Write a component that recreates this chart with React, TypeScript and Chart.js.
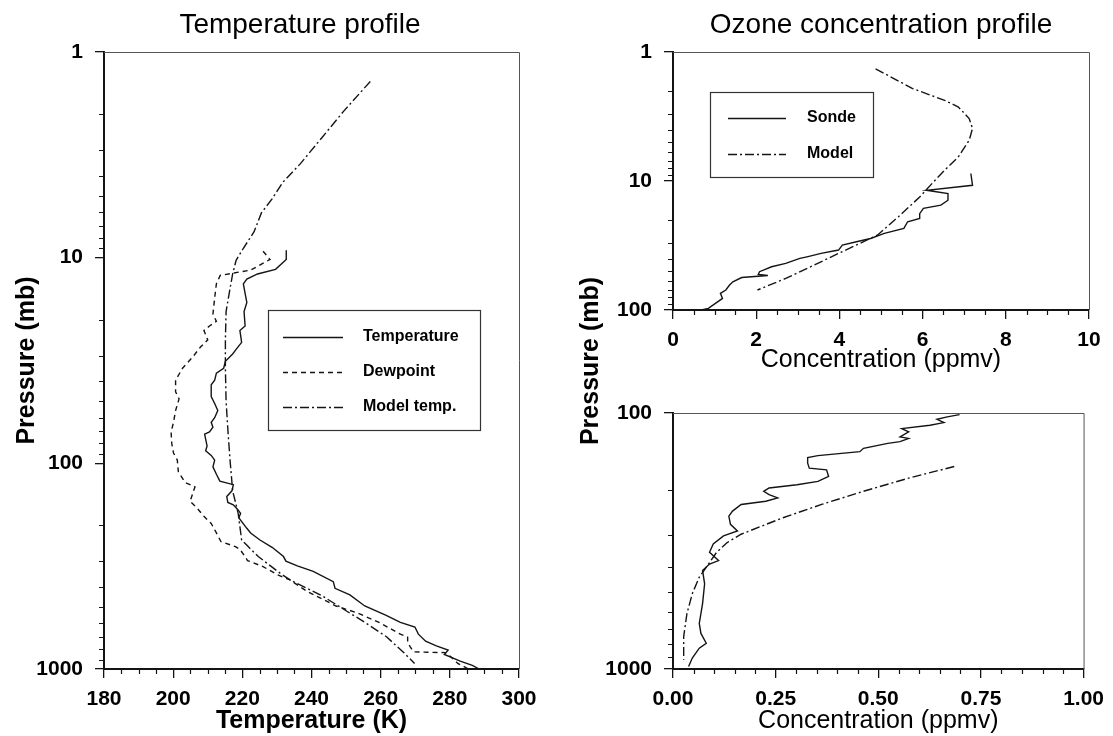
import React, { useEffect, useRef } from "react";
import { Chart, registerables } from "chart.js";

Chart.register(...registerables);

const FONT = "'Liberation Sans', Arial, sans-serif";
const INK = "#141414";

// ---------- Temperature profile (left) ----------
const temperatureP = [9.2, 10.2, 11.4, 12.0, 12.7, 13.4, 14.9, 16.5, 18.3, 21.5, 22.6, 25.8, 27.9, 29.4, 31.9, 34.5, 36.4, 39.4, 41.5, 47.3, 51.2, 55.4, 60.0, 63.2, 66.7, 70.3, 72.1, 82.3, 86.8, 91.5, 96.4, 104, 113, 122, 127, 136, 145, 155, 159, 168, 175, 184, 207, 218, 236, 256, 284, 299, 315, 335, 376, 405, 436, 494, 549, 593, 625, 677, 733, 772, 810, 850, 915, 960, 1000];
const temperatureK = [232.7, 232.7, 229.6, 224.4, 221.3, 220.3, 220.8, 221.3, 220.5, 220.8, 219.3, 219.8, 218.2, 217.2, 215.1, 214.6, 212.5, 212.0, 211.0, 211.0, 212.0, 212.9, 212.0, 211.0, 211.5, 210.5, 209.1, 209.8, 209.4, 211.0, 212.0, 211.5, 212.5, 213.5, 217.4, 217.0, 215.5, 215.8, 217.4, 218.7, 219.5, 219.0, 221.3, 222.4, 225.1, 228.6, 231.9, 232.6, 235.9, 240.5, 246.3, 246.8, 251.1, 255.4, 261.6, 265.7, 269.9, 270.9, 273.0, 276.1, 279.5, 278.4, 283.0, 286.5, 288.5];

const dewpointP = [9.3, 10.2, 11.5, 11.9, 12.2, 13.4, 15.7, 18.8, 20.4, 21.5, 22.6, 25.1, 27.2, 30.2, 34.5, 39.4, 44.9, 48.6, 55.4, 63.2, 70.3, 80.2, 89.1, 96.4, 110, 124, 130, 153, 165, 181, 196, 218, 240, 254, 262, 284, 297, 318, 351, 369, 389, 421, 456, 494, 534, 593, 677, 700, 745, 825, 830, 832, 870, 940, 1000];
const dewpointK = [226.0, 228.0, 222.4, 217.2, 213.6, 212.5, 212.0, 211.5, 212.5, 210.5, 208.9, 210.0, 207.9, 205.8, 202.7, 200.7, 200.7, 201.7, 200.7, 200.1, 199.4, 199.6, 200.1, 201.2, 201.5, 203.5, 206.3, 204.9, 206.9, 208.9, 211.0, 212.5, 213.8, 218.0, 219.3, 220.8, 221.5, 226.0, 230.6, 233.8, 235.8, 238.9, 243.0, 247.1, 253.3, 259.5, 265.7, 267.8, 267.8, 269.5, 275.0, 278.7, 280.2, 282.3, 285.4];

const modelTempP = [1.39, 1.95, 2.61, 3.49, 4.30, 5.18, 6.06, 7.48, 9.0, 10.3, 12.0, 14.9, 18.3, 25.1, 34.5, 49.9, 72.1, 98.9, 136, 175, 236, 254, 284, 342, 369, 444, 535, 593, 695, 836, 940];
const modelTempK = [257.0, 249.2, 243.0, 236.8, 231.7, 228.6, 225.5, 223.4, 220.3, 218.2, 217.2, 216.2, 215.3, 215.1, 215.1, 215.3, 215.9, 216.5, 217.2, 218.8, 219.8, 221.7, 224.6, 230.9, 233.8, 243.4, 251.1, 255.4, 261.6, 266.8, 269.8];

const temperatureTicks = [180, 200, 220, 240, 260, 280, 300];
const temperatureTickLabels = ["180", "200", "220", "240", "260", "280", "300"];
const pressureTicksFull = [1, 10, 100, 1000];
const pressureLabelsFull = ["1", "10", "100", "1000"];

// ---------- Ozone, stratosphere (top right) ----------
const sondeStratP = [8.75, 10.8, 11.8, 12.5, 14.1, 15.4, 16.3, 17.9, 19.5, 20.7, 23.3, 25.5, 27.9, 29.6, 31.4, 34.3, 36.4, 38.7, 39.8, 43.5, 46.2, 50.5, 53.0, 54.0, 56.0, 60.4, 64.0, 70.0, 74.3, 81.3, 88.8, 97.1, 100];
const sondeStratC = [7.16, 7.20, 6.10, 6.61, 6.61, 6.44, 6.02, 5.93, 5.93, 5.64, 5.55, 5.08, 4.75, 4.41, 4.07, 3.98, 3.56, 3.22, 3.05, 2.71, 2.37, 2.08, 2.05, 2.28, 1.65, 1.44, 1.36, 1.27, 1.14, 1.19, 1.02, 0.85, 0.68];
const modelStratP = [1.35, 1.92, 2.37, 2.67, 3.28, 3.92, 4.83, 6.50, 7.77, 10.1, 13.3, 18.9, 26.2, 30.5, 36.4, 44.9, 56.9, 70.0];
const modelStratC = [4.87, 5.76, 6.53, 6.86, 7.12, 7.20, 7.12, 6.86, 6.61, 6.27, 5.93, 5.42, 4.92, 4.49, 3.98, 3.39, 2.71, 2.03];

const stratConcTicks = [0, 2, 4, 6, 8, 10];
const stratConcLabels = ["0", "2", "4", "6", "8", "10"];
const stratPressureTicks = [1, 10, 100];
const stratPressureLabels = ["1", "10", "100"];

// ---------- Ozone, troposphere (bottom right) ----------
const sondeTropP = [101.5, 103.6, 105.8, 109, 111.6, 115, 118.5, 123.9, 125.7, 129.4, 131.4, 137.4, 141.6, 146.7, 149.4, 157.1, 164.2, 166.8, 176.9, 184.9, 190.6, 196.3, 202.2, 208.3, 214.6, 221.1, 227.6, 241.6, 252.7, 272.2, 289, 302, 325, 350, 377, 389, 412, 465, 555, 664, 726, 793, 829, 906, 977];
const sondeTropC = [0.698, 0.668, 0.643, 0.660, 0.626, 0.557, 0.574, 0.553, 0.574, 0.553, 0.523, 0.464, 0.455, 0.353, 0.328, 0.328, 0.332, 0.374, 0.379, 0.353, 0.302, 0.234, 0.221, 0.234, 0.255, 0.226, 0.166, 0.145, 0.136, 0.140, 0.157, 0.123, 0.098, 0.089, 0.111, 0.089, 0.072, 0.077, 0.072, 0.064, 0.068, 0.081, 0.064, 0.047, 0.038];
const modelTropP = [161.8, 179.6, 202.2, 227.6, 256.5, 276.2, 297.6, 320.6, 350.5, 400.6, 437.8, 508, 607, 747, 920];
const modelTropC = [0.685, 0.574, 0.464, 0.362, 0.268, 0.217, 0.166, 0.132, 0.106, 0.081, 0.064, 0.047, 0.034, 0.026, 0.026];

const tropConcTicks = [0, 0.25, 0.5, 0.75, 1];
const tropConcLabels = ["0.00", "0.25", "0.50", "0.75", "1.00"];
const tropPressureTicks = [100, 1000];
const tropPressureLabels = ["100", "1000"];

// ---------- helpers ----------
const zip = (xs: number[], ys: number[]) => xs.map((x, i) => ({ x, y: ys[i] }));

function minorLinear(min: number, max: number, step: number, majors: number[]) {
  const out: number[] = [];
  const n = Math.round((max - min) / step);
  for (let i = 0; i <= n; i++) {
    const v = +(min + i * step).toFixed(6);
    if (!majors.some((m) => Math.abs(m - v) < 1e-9)) out.push(v);
  }
  return out;
}
function minorLog(min: number, max: number) {
  const out: number[] = [];
  for (let d = min; d < max; d *= 10) for (let k = 2; k <= 9; k++) out.push(k * d);
  return out;
}

const DASH = [5, 4];
const DASHDOT = [9, 3, 2, 3];

function line(label: string, data: { x: number; y: number }[], dash: number[]) {
  return {
    label,
    data,
    showLine: true,
    pointRadius: 0,
    borderColor: INK,
    backgroundColor: INK,
    borderWidth: 1.4,
    borderDash: dash,
    fill: false,
    tension: 0,
  };
}

const panelPlugin = {
  id: "panelDecor",
  afterDraw(chart: any, _args: any, opts: any) {
    const { ctx, chartArea: a, scales } = chart;
    ctx.save();
    // top & right frame
    ctx.strokeStyle = "#555";
    ctx.lineWidth = 1;
    ctx.setLineDash([]);
    ctx.beginPath();
    ctx.moveTo(a.left, a.top + 0.5);
    ctx.lineTo(a.right + 0.5, a.top + 0.5);
    ctx.lineTo(a.right + 0.5, a.bottom);
    ctx.stroke();
    // minor ticks
    ctx.strokeStyle = INK;
    ctx.lineWidth = 1.2;
    ctx.beginPath();
    for (const v of opts.xMinor) {
      const px = Math.round(scales.x.getPixelForValue(v)) + 0.5;
      ctx.moveTo(px, a.bottom);
      ctx.lineTo(px, a.bottom + 5);
    }
    for (const v of opts.yMinor) {
      const py = Math.round(scales.y.getPixelForValue(v)) + 0.5;
      ctx.moveTo(a.left, py);
      ctx.lineTo(a.left - 5, py);
    }
    ctx.stroke();
    // free texts
    for (const t of opts.texts || []) {
      ctx.save();
      ctx.fillStyle = "#000";
      ctx.font = t.font;
      ctx.textAlign = "center";
      ctx.textBaseline = "middle";
      ctx.translate(t.x, t.y);
      if (t.rotate) ctx.rotate(t.rotate);
      ctx.fillText(t.text, 0, 0);
      ctx.restore();
    }
    // legend
    const lg = opts.legend;
    if (lg) {
      ctx.fillStyle = "#fff";
      ctx.fillRect(lg.x, lg.y, lg.w, lg.h);
      ctx.strokeStyle = "#333";
      ctx.lineWidth = 1.2;
      ctx.setLineDash([]);
      ctx.strokeRect(lg.x + 0.5, lg.y + 0.5, lg.w, lg.h);
      chart.data.datasets.forEach((ds: any, i: number) => {
        const y = lg.rows[i];
        ctx.strokeStyle = ds.borderColor;
        ctx.lineWidth = ds.borderWidth;
        ctx.setLineDash(ds.borderDash || []);
        ctx.beginPath();
        ctx.moveTo(lg.lineX0, y + 0.5);
        ctx.lineTo(lg.lineX1, y + 0.5);
        ctx.stroke();
        ctx.setLineDash([]);
        ctx.fillStyle = "#000";
        ctx.font = lg.font;
        ctx.textAlign = "left";
        ctx.textBaseline = "middle";
        ctx.fillText(ds.label, lg.textX, y);
      });
    }
    ctx.restore();
  },
};

type PanelSpec = {
  w: number;
  h: number;
  area: { left: number; top: number; right: number; bottom: number };
  datasets: any[];
  xMin: number;
  xMax: number;
  xTicks: number[];
  xLabels: string[];
  xMinor: number[];
  xTitle: string;
  xTitleFont: any;
  xTitlePad: number;
  yMin: number;
  yMax: number;
  yTicks: number[];
  yLabels: string[];
  yMinor: number[];
  yTitle?: string;
  texts: any[];
  legend?: any;
};

const tickFont = { family: FONT, size: 21, weight: "bold" as const };

function buildConfig(p: PanelSpec): any {
  return {
    type: "scatter",
    data: { datasets: p.datasets },
    plugins: [panelPlugin],
    options: {
      responsive: false,
      animation: false,
      events: [],
      layout: { padding: { left: 0, top: p.area.top, right: p.w - p.area.right, bottom: 0 } },
      plugins: {
        legend: { display: false },
        tooltip: { enabled: false },
        title: { display: false },
        panelDecor: { xMinor: p.xMinor, yMinor: p.yMinor, texts: p.texts, legend: p.legend },
      },
      scales: {
        x: {
          type: "linear",
          position: "bottom",
          min: p.xMin,
          max: p.xMax,
          afterBuildTicks: (s: any) => {
            s.ticks = p.xTicks.map((v) => ({ value: v }));
          },
          afterFit: (s: any) => {
            s.height = p.h - p.area.bottom;
          },
          ticks: {
            autoSkip: false,
            maxRotation: 0,
            padding: 9,
            color: "#000",
            font: tickFont,
            callback: (v: number) => p.xLabels[p.xTicks.findIndex((t) => Math.abs(t - v) < 1e-9)],
          },
          grid: { drawOnChartArea: false, tickLength: 9, color: INK, lineWidth: 1.3 },
          border: { display: true, color: INK, width: 2 },
          title: { display: true, text: p.xTitle, color: "#000", font: p.xTitleFont, padding: { top: 0, bottom: p.xTitlePad } },
        },
        y: {
          type: "logarithmic",
          position: "left",
          min: p.yMin,
          max: p.yMax,
          reverse: true,
          afterBuildTicks: (s: any) => {
            s.ticks = p.yTicks.map((v) => ({ value: v }));
          },
          afterFit: (s: any) => {
            s.width = p.area.left;
          },
          ticks: {
            autoSkip: false,
            padding: 12,
            color: "#000",
            font: tickFont,
            callback: (v: number) => p.yLabels[p.yTicks.findIndex((t) => Math.abs(t - v) < 1e-9)],
          },
          grid: { drawOnChartArea: false, tickLength: 9, color: INK, lineWidth: 1.3 },
          border: { display: true, color: INK, width: 2 },
          title: p.yTitle
            ? { display: true, text: p.yTitle, color: "#000", font: { family: FONT, size: 25, weight: "bold" }, padding: { top: 12, bottom: 0 } }
            : { display: false },
        },
      },
    },
  };
}

function Panel({ spec, left, top }: { spec: PanelSpec; left: number; top: number }) {
  const ref = useRef<HTMLCanvasElement>(null);
  useEffect(() => {
    const chart = new Chart(ref.current as HTMLCanvasElement, buildConfig(spec));
    return () => chart.destroy();
  }, []);
  return (
    <canvas
      ref={ref}
      width={spec.w}
      height={spec.h}
      style={{ position: "absolute", left, top, width: spec.w, height: spec.h }}
    />
  );
}

const temperatureSpec: PanelSpec = {
  w: 560,
  h: 736,
  area: { left: 104, top: 52, right: 519, bottom: 669 },
  datasets: [
    line("Temperature", zip(temperatureK, temperatureP), []),
    line("Dewpoint", zip(dewpointK, dewpointP), DASH),
    line("Model temp.", zip(modelTempK, modelTempP), DASHDOT),
  ],
  xMin: 180,
  xMax: 300,
  xTicks: temperatureTicks,
  xLabels: temperatureTickLabels,
  xMinor: minorLinear(180, 300, 5, temperatureTicks),
  xTitle: "Temperature (K)",
  xTitleFont: { family: FONT, size: 25, weight: "bold" },
  xTitlePad: 0,
  yMin: 1,
  yMax: 1000,
  yTicks: pressureTicksFull,
  yLabels: pressureLabelsFull,
  yMinor: minorLog(1, 1000),
  yTitle: "Pressure (mb)",
  texts: [{ text: "Temperature profile", x: 300, y: 25, font: `28px ${FONT}` }],
  legend: {
    x: 268,
    y: 310,
    w: 212,
    h: 120,
    lineX0: 283,
    lineX1: 343,
    textX: 363,
    rows: [337, 372, 407],
    font: `bold 16px ${FONT}`,
  },
};

const stratSpec: PanelSpec = {
  w: 553,
  h: 380,
  area: { left: 113, top: 52, right: 529, bottom: 310 },
  datasets: [line("Sonde", zip(sondeStratC, sondeStratP), []), line("Model", zip(modelStratC, modelStratP), DASHDOT)],
  xMin: 0,
  xMax: 10,
  xTicks: stratConcTicks,
  xLabels: stratConcLabels,
  xMinor: minorLinear(0, 10, 0.5, stratConcTicks),
  xTitle: "Concentration (ppmv)",
  xTitleFont: { family: FONT, size: 25 },
  xTitlePad: 5,
  yMin: 1,
  yMax: 100,
  yTicks: stratPressureTicks,
  yLabels: stratPressureLabels,
  yMinor: minorLog(1, 100),
  texts: [{ text: "Ozone concentration profile", x: 321, y: 25, font: `28px ${FONT}` }],
  legend: {
    x: 150,
    y: 92,
    w: 163,
    h: 85,
    lineX0: 168,
    lineX1: 226,
    textX: 247,
    rows: [118, 154],
    font: `bold 16px ${FONT}`,
  },
};

const tropSpec: PanelSpec = {
  w: 553,
  h: 496,
  area: { left: 113, top: 173, right: 529, bottom: 429 },
  datasets: [line("Sonde", zip(sondeTropC, sondeTropP), []), line("Model", zip(modelTropC, modelTropP), DASHDOT)],
  xMin: 0,
  xMax: 1,
  xTicks: tropConcTicks,
  xLabels: tropConcLabels,
  xMinor: minorLinear(0, 1, 0.05, tropConcTicks),
  xTitle: "Concentration (ppmv)",
  xTitleFont: { family: FONT, size: 25 },
  xTitlePad: 0,
  yMin: 100,
  yMax: 1000,
  yTicks: tropPressureTicks,
  yLabels: tropPressureLabels,
  yMinor: minorLog(100, 1000),
  texts: [{ text: "Pressure (mb)", x: 31, y: 121, font: `bold 25px ${FONT}`, rotate: -Math.PI / 2 }],
};

export default function App() {
  return (
    <div style={{ position: "absolute", left: 0, top: 0, width: 1113, height: 736, background: "#fff", overflow: "hidden" }}>
      <Panel spec={temperatureSpec} left={0} top={0} />
      <Panel spec={stratSpec} left={560} top={0} />
      <Panel spec={tropSpec} left={560} top={240} />
    </div>
  );
}
